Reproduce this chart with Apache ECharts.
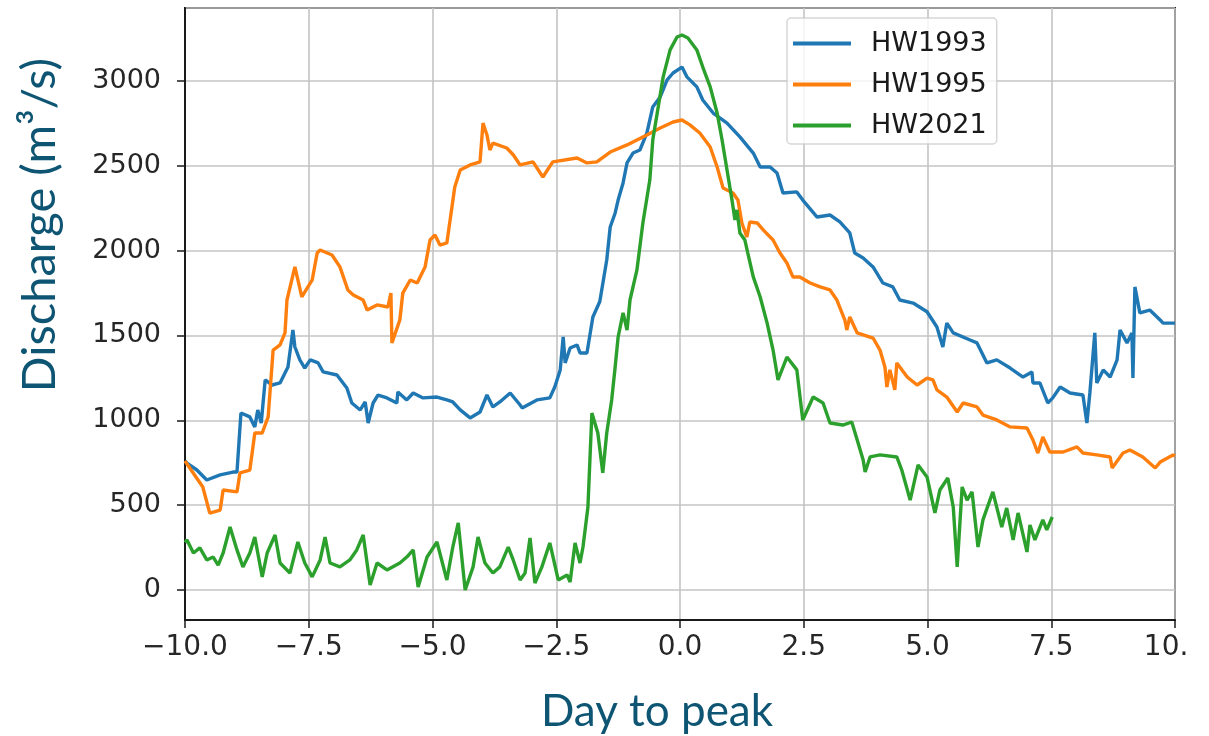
<!DOCTYPE html>
<html>
<head>
<meta charset="utf-8">
<script src="https://cdn.jsdelivr.net/npm/echarts@6/dist/echarts.min.js"></script>
<style>
  html, body { margin: 0; padding: 0; background: #ffffff; overflow: hidden; }
  #chart { width: 1186px; height: 736px; }
</style>
</head>
<body>
<div id="chart"></div>
<script>
// Discharge hydrographs aligned on the day of peak flow: [day, m3/s]
const hw1993 = [
  [-10.0,760],[-9.96,748],[-9.76,707],[-9.56,648],[-9.29,678],[-9.03,695],[-8.95,695],[-8.87,1043],
  [-8.69,1020],[-8.59,961],[-8.53,1061],[-8.46,984],[-8.38,1238],[-8.24,1208],[-8.08,1220],[-7.92,1314],
  [-7.82,1532],[-7.78,1432],[-7.68,1356],[-7.58,1308],[-7.47,1356],[-7.31,1338],[-7.21,1285],[-6.93,1267],
  [-6.73,1190],[-6.63,1102],[-6.46,1061],[-6.36,1108],[-6.30,984],[-6.20,1102],[-6.10,1149],[-5.92,1132],
  [-5.72,1102],[-5.70,1167],[-5.52,1120],[-5.39,1161],[-5.19,1132],[-4.91,1137],[-4.71,1120],[-4.59,1108],
  [-4.44,1061],[-4.24,1014],[-4.04,1049],[-3.90,1149],[-3.78,1079],[-3.64,1108],[-3.43,1161],[-3.23,1090],
  [-3.19,1073],[-2.89,1120],[-2.63,1132],[-2.53,1196],[-2.42,1297],[-2.36,1491],[-2.32,1338],[-2.22,1426],
  [-2.08,1444],[-2.02,1397],[-1.88,1397],[-1.76,1609],[-1.62,1700],[-1.48,1945],[-1.41,2139],[-1.31,2222],
  [-1.25,2298],[-1.15,2399],[-1.07,2517],[-0.95,2575],[-0.81,2593],[-0.67,2693],[-0.55,2847],[-0.40,2906],
  [-0.26,3006],[-0.14,3047],[0.04,3082],[0.14,3024],[0.34,2965],[0.46,2888],[0.67,2811],[0.95,2752],
  [1.21,2670],[1.48,2575],[1.62,2493],[1.82,2493],[1.96,2458],[2.08,2340],[2.36,2346],[2.48,2298],
  [2.77,2198],[3.03,2210],[3.23,2169],[3.43,2104],[3.53,1986],[3.70,1957],[3.90,1904],[4.10,1809],
  [4.30,1786],[4.44,1709],[4.71,1691],[4.99,1640],[5.19,1550],[5.31,1432],[5.39,1573],[5.52,1515],
  [5.86,1473],[6.00,1456],[6.20,1338],[6.40,1356],[6.67,1308],[6.93,1255],[7.11,1285],[7.13,1220],
  [7.27,1220],[7.43,1102],[7.53,1132],[7.68,1196],[7.88,1161],[8.14,1149],[8.22,984],[8.28,1161],
  [8.38,1515],[8.42,1220],[8.55,1297],[8.69,1255],[8.83,1356],[8.89,1532],[9.03,1456],[9.13,1515],
  [9.15,1249],[9.19,1786],[9.29,1633],[9.49,1650],[9.70,1591],[9.76,1573],[10.0,1573]
];
const hw1995 = [
  [-10.0,760],[-9.96,766],[-9.64,607],[-9.50,453],[-9.29,471],[-9.23,589],[-8.95,578],[-8.89,690],
  [-8.69,707],[-8.59,925],[-8.44,925],[-8.32,1020],[-8.22,1414],[-8.08,1444],[-7.98,1515],[-7.94,1709],
  [-7.78,1904],[-7.64,1727],[-7.43,1827],[-7.33,1986],[-7.27,2004],[-7.03,1974],[-6.87,1904],[-6.71,1768],
  [-6.60,1739],[-6.40,1709],[-6.32,1650],[-6.12,1680],[-5.90,1668],[-5.84,1750],[-5.82,1456],[-5.66,1591],
  [-5.60,1750],[-5.45,1827],[-5.31,1809],[-5.15,1904],[-5.05,2063],[-4.95,2092],[-4.85,2033],[-4.71,2045],
  [-4.55,2375],[-4.44,2475],[-4.24,2505],[-4.04,2523],[-3.98,2752],[-3.90,2682],[-3.84,2593],[-3.78,2634],
  [-3.50,2605],[-3.37,2565],[-3.23,2505],[-2.97,2523],[-2.77,2434],[-2.57,2523],[-2.08,2546],[-1.88,2517],
  [-1.68,2523],[-1.41,2581],[-1.07,2623],[-0.67,2682],[-0.40,2723],[-0.14,2758],[0.04,2770],[0.20,2741],
  [0.40,2693],[0.61,2611],[0.75,2493],[0.87,2369],[1.07,2340],[1.17,2298],[1.25,2163],[1.35,2080],
  [1.41,2169],[1.56,2163],[1.68,2122],[1.88,2063],[2.02,1986],[2.16,1927],[2.28,1845],[2.42,1845],
  [2.63,1809],[2.83,1786],[3.03,1768],[3.17,1709],[3.33,1591],[3.37,1532],[3.43,1609],[3.58,1515],
  [3.90,1485],[4.04,1414],[4.14,1314],[4.18,1196],[4.24,1297],[4.34,1179],[4.38,1338],[4.59,1255],
  [4.79,1208],[4.99,1249],[5.11,1238],[5.19,1179],[5.39,1137],[5.60,1049],[5.72,1102],[6.00,1079],
  [6.12,1031],[6.40,1002],[6.67,961],[7.01,955],[7.13,884],[7.23,807],[7.33,902],[7.47,813],
  [7.74,813],[8.02,843],[8.14,807],[8.42,796],[8.69,784],[8.73,719],[8.95,807],[9.09,825],
  [9.35,784],[9.60,719],[9.70,754],[9.96,796],[10.0,790]
];
const hw2021 = [
  [-10.0,280],[-9.96,295],[-9.83,218],[-9.70,248],[-9.56,177],[-9.43,194],[-9.33,147],[-9.23,218],
  [-9.09,371],[-8.95,236],[-8.83,136],[-8.69,218],[-8.59,312],[-8.44,77],[-8.34,218],[-8.18,324],
  [-8.08,159],[-7.88,100],[-7.72,283],[-7.58,159],[-7.43,77],[-7.27,177],[-7.17,312],[-7.07,159],
  [-6.87,136],[-6.67,177],[-6.53,236],[-6.40,324],[-6.26,29],[-6.12,159],[-5.92,118],[-5.66,159],
  [-5.52,194],[-5.39,236],[-5.29,18],[-5.11,194],[-4.91,283],[-4.71,59],[-4.59,253],[-4.48,395],
  [-4.34,0],[-4.18,136],[-4.08,312],[-3.94,159],[-3.78,100],[-3.64,136],[-3.47,253],[-3.37,177],
  [-3.23,59],[-3.13,100],[-3.03,306],[-2.93,41],[-2.79,136],[-2.63,277],[-2.46,59],[-2.28,88],
  [-2.22,47],[-2.12,277],[-2.02,159],[-1.96,253],[-1.86,489],[-1.78,1043],[-1.66,925],[-1.56,690],
  [-1.48,925],[-1.38,1120],[-1.31,1314],[-1.25,1491],[-1.15,1633],[-1.07,1532],[-1.01,1709],[-0.87,1886],
  [-0.75,2163],[-0.61,2416],[-0.55,2652],[-0.44,2847],[-0.34,3024],[-0.20,3183],[-0.06,3259],[0.04,3271],
  [0.16,3253],[0.34,3183],[0.46,3082],[0.61,2965],[0.75,2811],[0.85,2652],[0.95,2475],[1.05,2298],
  [1.11,2181],[1.15,2240],[1.21,2104],[1.31,2063],[1.37,1986],[1.48,1845],[1.62,1727],[1.76,1573],
  [1.88,1414],[1.98,1238],[2.16,1373],[2.36,1297],[2.48,1002],[2.69,1137],[2.89,1102],[3.03,984],
  [3.29,972],[3.47,990],[3.58,884],[3.70,766],[3.74,695],[3.84,784],[4.04,796],[4.38,784],
  [4.48,707],[4.65,530],[4.81,737],[4.99,666],[5.15,454],[5.25,589],[5.41,660],[5.52,489],
  [5.60,136],[5.70,607],[5.80,530],[5.90,578],[6.02,253],[6.12,413],[6.32,578],[6.50,371],
  [6.60,483],[6.73,295],[6.83,454],[7.01,224],[7.07,383],[7.17,295],[7.33,413],[7.41,354],[7.52,430]
];

const seriesNames = ['HW1993', 'HW1995', 'HW2021'];
const seriesColors = ['#1f77b4', '#ff7f0e', '#2ca02c'];
const seriesData = [hw1993, hw1995, hw2021];

const xTitle = 'Day to peak';
const yTitle = 'Discharge (m\u00B3/s)';

const tickFont = 'DejaVu Sans';
const titleFont = 'Lato';
const titleColor = '#0e5573';
const gridLineColor = '#c4c4c4';

const chart = echarts.init(document.getElementById('chart'), null, { renderer: 'canvas' });

function minusFmt(v, digits) {
  const s = Math.abs(v).toFixed(digits);
  return v < 0 ? '\u2212' + s : s;
}

chart.setOption({
  animation: false,
  backgroundColor: '#ffffff',
  grid: {
    left: 185, right: 11, top: 8, bottom: 116,
    containLabel: false, outerBoundsMode: 'none',
    show: true, borderColor: '#1a1a1a', borderWidth: 2, backgroundColor: 'transparent'
  },
  legend: {
    orient: 'vertical',
    left: 787, top: 18,
    padding: [10, 10, 3, 6],
    itemGap: 10,
    itemWidth: 58, itemHeight: 4,
    icon: 'rect',
    backgroundColor: 'rgba(255,255,255,0.8)',
    borderColor: 'rgba(204,204,204,0.8)',
    borderWidth: 1.5,
    borderRadius: 4,
    textStyle: { fontFamily: tickFont, fontSize: 27, lineHeight: 31, color: '#1a1a1a', padding: [0, 0, 0, 15] },
    data: seriesNames
  },
  xAxis: {
    type: 'value',
    min: -10, max: 10, interval: 2.5,
    axisLine: { show: true, onZero: false, lineStyle: { color: '#1a1a1a', width: 2 } },
    axisTick: { show: true, inside: false, length: 8, lineStyle: { color: '#1a1a1a', width: 1.5 } },
    axisLabel: {
      margin: 14, fontFamily: tickFont, fontSize: 28, color: '#262626',
      formatter: v => minusFmt(v, 1)
    },
    splitLine: { show: true, lineStyle: { color: gridLineColor, width: 1.6 } }
  },
  yAxis: {
    type: 'value',
    min: -177, max: 3430, splitNumber: 7,
    axisLine: { show: true, onZero: false, lineStyle: { color: '#1a1a1a', width: 2 } },
    axisTick: { show: true, inside: false, length: 8, lineStyle: { color: '#1a1a1a', width: 1.5 } },
    axisLabel: {
      margin: 24, fontFamily: tickFont, fontSize: 27, color: '#262626',
      showMinLabel: false, showMaxLabel: false,
      formatter: v => (v % 500 === 0 ? String(v) : '')
    },
    splitLine: { show: true, lineStyle: { color: gridLineColor, width: 1.6 } }
  },
  graphic: [
    {
      type: 'text', x: 657, y: 712,
      style: {
        text: xTitle, x: 0, y: 0, textAlign: 'center', textVerticalAlign: 'middle',
        font: '44px ' + titleFont, fill: titleColor
      }
    },
    {
      type: 'text', x: 40, y: 225, rotation: Math.PI / 2,
      style: {
        text: yTitle, x: 0, y: 0, textAlign: 'center', textVerticalAlign: 'middle',
        font: '47px ' + titleFont, fill: titleColor
      }
    }
  ],
  series: seriesData.map((d, i) => ({
    name: seriesNames[i],
    type: 'line',
    data: d,
    showSymbol: false,
    symbol: 'none',
    lineStyle: { color: seriesColors[i], width: 3.4 },
    itemStyle: { color: seriesColors[i] },
    z: 2 + i
  }))
});
</script>
</body>
</html>
